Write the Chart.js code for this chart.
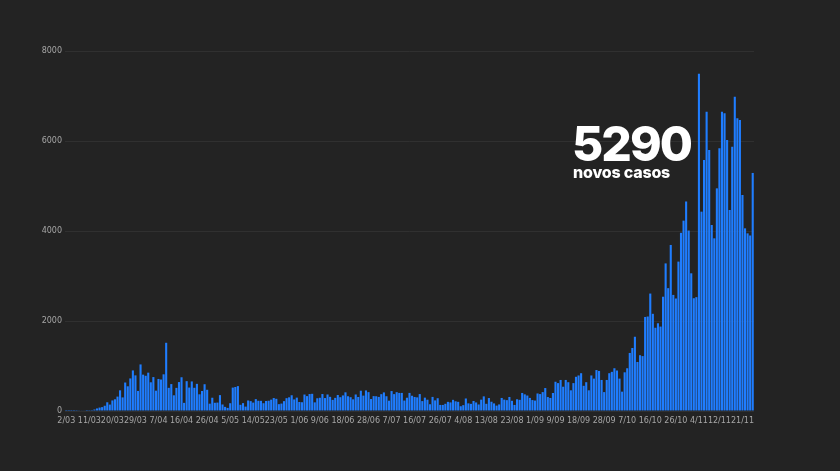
<!DOCTYPE html>
<html>
<head>
<meta charset="utf-8">
<script src="https://cdn.jsdelivr.net/npm/chart.js@4/dist/chart.umd.min.js"></script>
<style>
  html, body { margin: 0; padding: 0; background: #232323; }
  #wrap { position: relative; width: 840px; height: 471px; }
  #chart { display: block; }
  .callout { position: absolute; color: #fff; font-family: Inter, sans-serif; font-weight: 800; white-space: nowrap; }
  #bigNum { left: 572px; top: 120px; font-size: 48px; line-height: 48px; letter-spacing: -2px; }
  #subText { left: 573px; top: 164px; font-size: 16px; line-height: 16px; letter-spacing: -0.2px; }
</style>
</head>
<body>
<div id="wrap">
  <canvas id="chart" width="840" height="471"></canvas>
  <div class="callout" id="bigNum">5290</div>
  <div class="callout" id="subText">novos casos</div>
</div>
<script>
// daily new cases, one array per month (starts 2 March)
const marchCases = [2, 2, 2, 3, 4, 8, 9, 9, 2, 18, 19, 34, 57, 76, 86, 117, 194, 143, 235, 260, 320, 460, 302, 633, 549, 724, 902, 792, 446, 1035];
const aprilCases = [808, 783, 852, 638, 754, 452, 712, 699, 815, 1516, 515, 598, 349, 514, 643, 750, 181, 663, 521, 657, 516, 603, 371, 444, 595, 472, 163, 295, 183, 187];
const mayCases = [353, 145, 92, 69, 173, 520, 533, 553, 138, 175, 98, 234, 219, 187, 264, 227, 226, 173, 223, 228, 252, 288, 271, 152, 165, 219, 285, 304, 350, 257, 297];
const juneCases = [200, 195, 366, 331, 377, 382, 192, 283, 294, 377, 288, 367, 315, 247, 292, 355, 307, 346, 415, 328, 307, 259, 367, 311, 451, 342, 457, 419, 266, 331];
const julyCases = [328, 313, 374, 413, 328, 229, 443, 375, 418, 402, 402, 232, 295, 402, 339, 312, 303, 376, 220, 297, 251, 150, 313, 236, 284, 135, 135, 160, 203, 191, 248];
const augustCases = [216, 204, 106, 130, 278, 170, 159, 223, 190, 145, 252, 325, 160, 288, 206, 169, 120, 146, 290, 253, 241, 312, 227, 135, 261, 248, 401, 370, 344, 291, 243];
const septemberCases = [232, 390, 376, 420, 510, 310, 290, 400, 650, 620, 690, 540, 690, 640, 460, 620, 760, 790, 840, 560, 640, 460, 790, 720, 910, 890, 690, 420, 690, 840];
const octoberCases = [870, 950, 900, 720, 430, 860, 950, 1290, 1400, 1650, 1090, 1240, 1220, 2090, 2100, 2610, 2160, 1850, 1950, 1876, 2540, 3280, 2730, 3690, 2580, 2500, 3320, 3960, 4230, 4656, 4010];
const novemberCases = [3060, 2506, 2530, 7497, 4430, 5578, 6652, 5800, 4133, 3837, 4948, 5837, 6652, 6615, 6022, 4467, 5874, 6985, 6504, 6467, 4800, 4059, 3948, 3900, 5290];

// the dates that get a label on the x axis
const tickLabels = ['2/03', '11/03', '20/03', '29/03', '7/04', '16/04', '26/04', '5/05', '14/05', '23/05',
  '1/06', '9/06', '18/06', '28/06', '7/07', '16/07', '26/07', '4/08', '13/08', '23/08',
  '1/09', '9/09', '18/09', '28/09', '7/10', '16/10', '26/10', '4/11', '12/11', '21/11'];
const yTicks = [0, 2000, 4000, 6000, 8000];

const newCases = [].concat(marchCases, aprilCases, mayCases, juneCases, julyCases,
  augustCases, septemberCases, octoberCases, novemberCases);

// one category per day, "d/mm"
const days = [];
for (let i = 0; i < newCases.length; i++) {
  const d = new Date(2020, 2, 2 + i);
  days.push(d.getDate() + '/' + String(d.getMonth() + 1).padStart(2, '0'));
}

const tickFont = { family: 'DejaVu Sans', size: 8 };

const ctx = document.getElementById('chart').getContext('2d');
const casesChart = new Chart(ctx, {
  type: 'bar',
  data: {
    labels: days,
    datasets: [{
      label: 'novos casos',
      data: newCases,
      backgroundColor: '#1f7dff',
      barPercentage: 0.82,
      categoryPercentage: 1.0
    }]
  },
  options: {
    responsive: false,
    animation: false,
    layout: { padding: { left: 0, right: 86, top: 51, bottom: 40 } },
    plugins: {
      legend: { display: false },
      tooltip: { enabled: false }
    },
    scales: {
      x: {
        grid: { display: false, drawTicks: false },
        border: { display: false },
        ticks: {
          autoSkip: false,
          maxRotation: 0,
          minRotation: 0,
          padding: 5,
          color: '#a6a6a6',
          font: tickFont,
          callback: function (value) {
            const l = this.getLabelForValue(value);
            return tickLabels.includes(l) ? l : '';
          }
        },
        afterFit: scale => { scale.height = 20; }
      },
      y: {
        min: 0,
        max: yTicks[yTicks.length - 1],
        afterBuildTicks: scale => { scale.ticks = yTicks.map(v => ({ value: v })); },
        grid: { color: '#303030', lineWidth: 1, drawTicks: false },
        border: { display: false },
        ticks: { padding: 3, color: '#a6a6a6', font: tickFont, callback: v => String(v) },
        afterFit: scale => { scale.width = 65; }
      }
    }
  }
});
</script>
</body>
</html>
